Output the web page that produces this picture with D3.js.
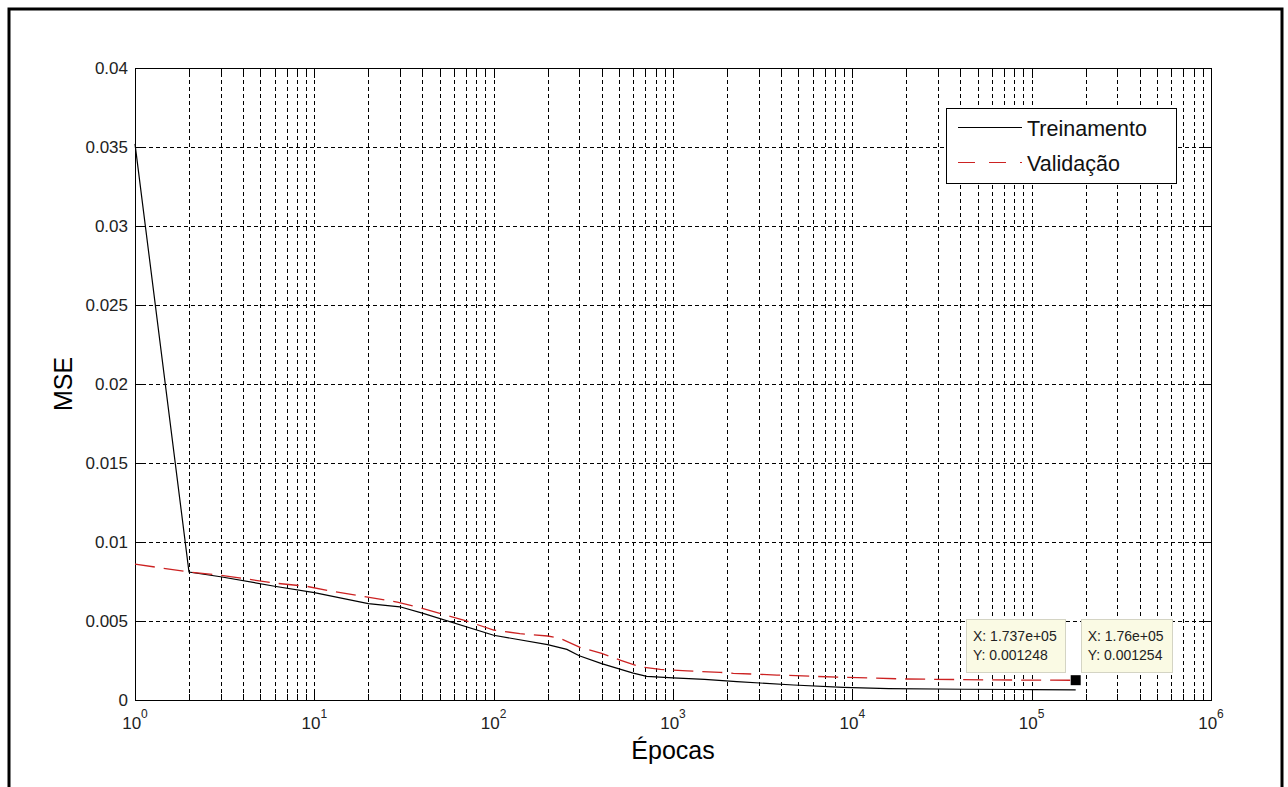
<!DOCTYPE html>
<html>
<head>
<meta charset="utf-8">
<script src="https://cdn.jsdelivr.net/npm/d3@7"></script>
<style>
  body { margin: 0; background: #fff; }
  svg { display: block; font-family: "Liberation Sans", Arial, sans-serif; }
</style>
</head>
<body>
<div id="chart"></div>
<script>
// MSE per epoch
const trainEpochs = [1, 2, 3, 6, 10, 20, 30, 40, 100, 200, 256, 300, 400, 600, 714, 1000, 1500, 2270, 4700, 8900, 16000, 42000, 100000, 176000];
const trainMse = [0.0352, 0.0081, 0.0078, 0.0072, 0.0068, 0.0061, 0.0059, 0.0055, 0.0041, 0.0035, 0.0032, 0.0028, 0.0023, 0.0017, 0.0015, 0.0014, 0.0013, 0.00116, 0.00095, 0.0008, 0.00072, 0.00068, 0.00066, 0.00064];

const valEpochs = [1, 2, 3, 6, 9, 13, 29, 40, 68, 100, 140, 200, 235, 303, 400, 507, 654, 850, 1200, 1830, 2170, 3800, 8550, 19900, 60500, 173700, 176000];
const valMse = [0.0086, 0.0081, 0.0079, 0.0074, 0.0072, 0.00685, 0.0062, 0.0058, 0.00506, 0.00443, 0.0042, 0.00405, 0.0039, 0.00333, 0.00295, 0.00253, 0.0021, 0.00194, 0.00184, 0.00175, 0.00169, 0.00158, 0.00144, 0.00133, 0.00127, 0.001248, 0.001254];

const seriesNames = ['Treinamento', 'Validação'];
const xMajorTicks = [1, 10, 100, 1000, 10000, 100000, 1000000];
const yTickValues = [0, 0.005, 0.01, 0.015, 0.02, 0.025, 0.03, 0.035, 0.04];

// data cursor tips
const tipEpochs = [1.737e5, 1.76e5];
const tipMse = [0.001248, 0.001254];

const W = 1288, H = 787;
const margin = { top: 68, right: 77, bottom: 87, left: 135 };
const width = W - margin.left - margin.right;
const height = H - margin.top - margin.bottom;

const svg = d3.select('#chart').append('svg')
    .attr('width', W)
    .attr('height', H);

// figure frame
svg.append('path')
    .attr('d', `M9,${H} V9 H1282 V${H}`)
    .attr('fill', 'none')
    .attr('stroke', '#000')
    .attr('stroke-width', 3);

const g = svg.append('g').attr('transform', `translate(${margin.left},${margin.top})`);

const x = d3.scaleLog().domain([1, 1e6]).range([0, width]);
const y = d3.scaleLinear().domain([0, 0.04]).range([height, 0]);

const allXTicks = x.ticks();
const minorXTicks = allXTicks.filter(v => !xMajorTicks.includes(v));

// Grid
const xGrid = g.append('g')
    .attr('transform', `translate(0,${height})`)
    .call(d3.axisBottom(x).tickValues(allXTicks.filter(v => v > 1 && v < 1e6)).tickSize(-height).tickFormat(''));
const yGrid = g.append('g')
    .call(d3.axisLeft(y).tickValues(yTickValues.filter(v => v > 0 && v < 0.04)).tickSize(-width).tickFormat(''));
[xGrid, yGrid].forEach(a => {
    a.select('.domain').remove();
    a.selectAll('line')
        .attr('stroke', '#000')
        .attr('stroke-dasharray', '4,3')
        .attr('shape-rendering', 'crispEdges');
});

// Ticks (inward, all four sides)
function tickAxis(axis, transform) {
    const a = g.append('g').attr('transform', transform).call(axis);
    a.select('.domain').remove();
    a.selectAll('line').attr('stroke', '#000').attr('shape-rendering', 'crispEdges');
    return a;
}
tickAxis(d3.axisBottom(x).tickValues(xMajorTicks).tickSize(-10).tickFormat(''), `translate(0,${height})`);
tickAxis(d3.axisBottom(x).tickValues(minorXTicks).tickSize(-6).tickFormat(''), `translate(0,${height})`);
tickAxis(d3.axisTop(x).tickValues(xMajorTicks).tickSize(-10).tickFormat(''), 'translate(0,0)');
tickAxis(d3.axisTop(x).tickValues(minorXTicks).tickSize(-6).tickFormat(''), 'translate(0,0)');
tickAxis(d3.axisLeft(y).tickValues(yTickValues).tickSize(-10).tickFormat(''), 'translate(0,0)');
tickAxis(d3.axisRight(y).tickValues(yTickValues).tickSize(-10).tickFormat(''), `translate(${width},0)`);

// Axes box
g.append('rect')
    .attr('width', width)
    .attr('height', height)
    .attr('fill', 'none')
    .attr('stroke', '#000')
    .attr('shape-rendering', 'crispEdges');

// Tick labels
const xLabels = g.append('g').selectAll('text')
    .data(xMajorTicks)
    .enter()
    .append('text')
    .attr('x', d => x(d))
    .attr('y', height + 29)
    .attr('text-anchor', 'middle')
    .attr('fill', '#222')
    .style('font-size', '17px');
xLabels.append('tspan').text('10');
xLabels.append('tspan')
    .attr('dy', -11)
    .style('font-size', '12px')
    .text(d => Math.round(Math.log10(d)));

g.append('g').selectAll('text')
    .data(yTickValues)
    .enter()
    .append('text')
    .attr('x', -7)
    .attr('y', d => y(d))
    .attr('dy', '0.36em')
    .attr('text-anchor', 'end')
    .attr('fill', '#222')
    .style('font-size', '17px')
    .text(d => String(d));

// Axis titles
svg.append('text')
    .attr('x', margin.left + width / 2)
    .attr('y', 759)
    .attr('text-anchor', 'middle')
    .attr('fill', '#000')
    .style('font-size', '25px')
    .text('Épocas');
svg.append('text')
    .attr('transform', `translate(72,${margin.top + height / 2}) rotate(-90)`)
    .attr('text-anchor', 'middle')
    .attr('fill', '#000')
    .style('font-size', '25px')
    .text('MSE');

// Lines
const line = d3.line().x(d => x(d[0])).y(d => y(d[1]));
g.append('path')
    .datum(trainEpochs.map((e, i) => [e, trainMse[i]]))
    .attr('d', line)
    .attr('fill', 'none')
    .attr('stroke', '#000')
    .attr('stroke-width', 1.2);
g.append('path')
    .datum(valEpochs.map((e, i) => [e, valMse[i]]))
    .attr('d', line)
    .attr('fill', 'none')
    .attr('stroke', '#cc2222')
    .attr('stroke-width', 1.3)
    .attr('stroke-dasharray', '20,9');

// Legend
const legend = g.append('g').attr('transform', `translate(${width - 265},40)`);
legend.append('rect')
    .attr('width', 230)
    .attr('height', 75)
    .attr('fill', '#fff')
    .attr('stroke', '#000')
    .attr('shape-rendering', 'crispEdges');
const legendStyles = [{ color: '#000', dash: null }, { color: '#cc2222', dash: '17,14' }];
seriesNames.forEach((name, i) => {
    const row = legend.append('g').attr('transform', `translate(0,${19.5 + i * 35})`);
    row.append('line')
        .attr('x1', 12).attr('x2', 76)
        .attr('stroke', legendStyles[i].color)
        .attr('stroke-width', 1.2)
        .attr('stroke-dasharray', legendStyles[i].dash);
    row.append('text')
        .attr('x', 81)
        .attr('y', 8.5)
        .attr('fill', '#111')
        .style('font-size', '21.5px')
        .text(name);
});

// Data tips, MATLAB-like %.4g
function fmtG(v) {
    const e = Math.floor(Math.log10(Math.abs(v)));
    if (e >= 5 || e < -5) {
        let [m, ex] = v.toExponential(3).split('e');
        m = m.replace(/\.?0+$/, '');
        return m + 'e' + ex[0] + ex.slice(1).padStart(2, '0');
    }
    return String(+v.toPrecision(4));
}

tipEpochs.forEach((ep, i) => {
    const px = x(ep), py = y(tipMse[i]);
    const tip = g.append('g');
    const box = tip.append('rect')
        .attr('fill', '#fafae4')
        .attr('stroke', '#d4d4c4')
        .attr('shape-rendering', 'crispEdges');
    const lines = ['X: ' + fmtG(ep), 'Y: ' + fmtG(tipMse[i])];
    const texts = lines.map((t, k) => tip.append('text')
        .attr('y', 22 + k * 19)
        .attr('fill', '#222')
        .style('font-size', '14px')
        .text(t));
    const tw = d3.max(texts, t => t.node().getComputedTextLength());
    const bw = tw + 15, bh = 53;
    const bx = i === 0 ? px - 9 - bw : px + 6;
    const by = py - 8 - bh;
    tip.attr('transform', `translate(${bx},${by})`);
    box.attr('width', bw).attr('height', bh);
    texts.forEach(t => t.attr('x', 6));
    if (i === tipEpochs.length - 1) {
        g.append('rect')
            .attr('x', px - 5).attr('y', py - 5)
            .attr('width', 10).attr('height', 10)
            .attr('fill', '#000');
    }
});
</script>
</body>
</html>
